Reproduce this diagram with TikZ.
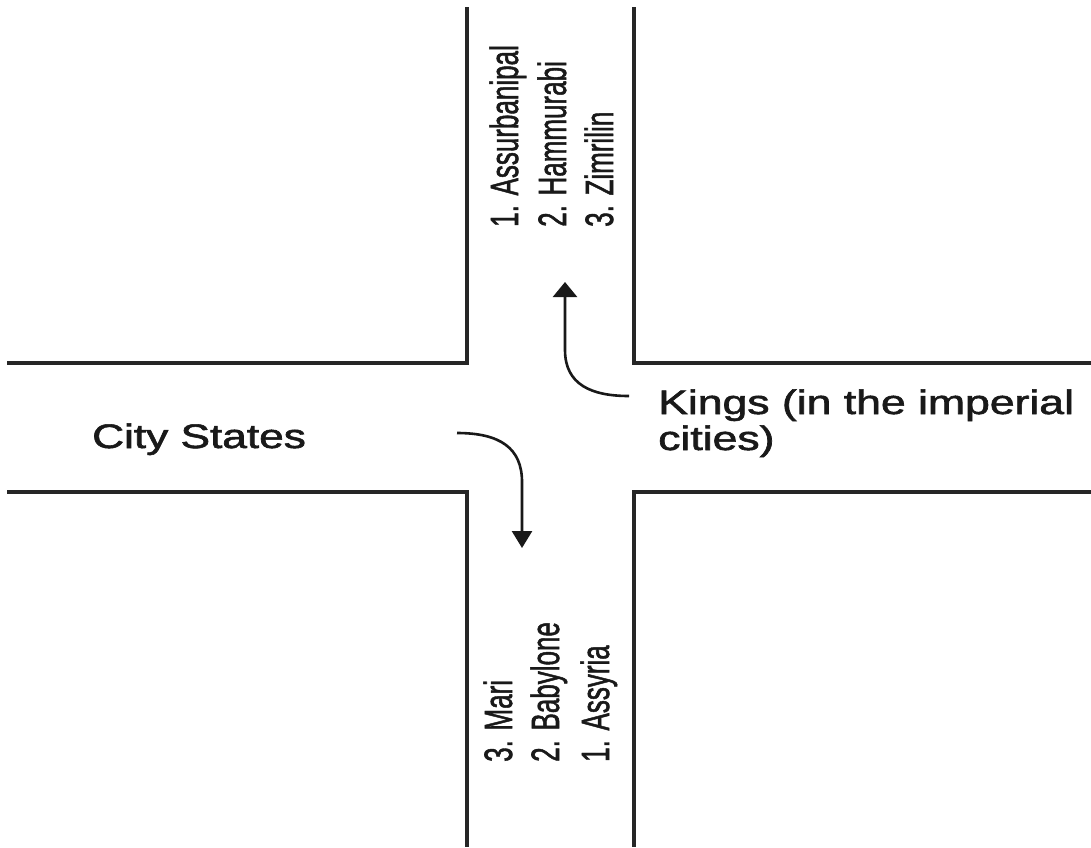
\documentclass[tikz,border=0pt]{standalone}
\usepackage{fontspec}
\setmainfont{Liberation Sans}
\newfontfamily\heavysans[FakeBold=1.6]{Liberation Sans}
\usetikzlibrary{arrows.meta}
\begin{document}
\begin{tikzpicture}[x=1pt,y=-1pt,
  wall/.style={line width=3.2pt, draw=black!85, line join=miter},
  flow/.style={line width=2.6pt, draw=black!90},
  uptip/.style={-{Triangle[width=24pt,length=15pt]}},
  downtip/.style={-{Triangle[width=20pt,length=17pt]}},
  roadtext/.style={inner sep=0pt, anchor=base west, text=black!90, font=\heavysans\fontsize{34}{36}\selectfont},
  streettext/.style={inner sep=0pt, anchor=base west, rotate=90, text=black!90, font=\heavysans\fontsize{26}{30}\selectfont}]
\fill[white] (0,0) rectangle (1091,847);
\useasboundingbox (0,0) rectangle (1091,847);

% the four blocks around the crossing
\draw[wall] (467,7) -- (467,363) -- (7,363);
\draw[wall] (634,7) -- (634,363) -- (1091,363);
\draw[wall] (7,492) -- (467,492) -- (467,847);
\draw[wall] (1091,492) -- (634,492) -- (634,847);

% horizontal street labels
\node[roadtext] (city) at (92,448) {\scalebox{1.3}[1]{City States}};
\node[roadtext] (kings1) at (658,414) {\scalebox{1.31}[1]{Kings (in the imperial}};
\node[roadtext] (kings2) at (658,450) {\scalebox{1.31}[1]{cities)}};

% upper street: kings
\node[streettext] (k1) at (518,227) {\scalebox{1}[1.52]{1. Assurbanipal}};
\node[streettext] (k2) at (566,227) {\scalebox{1}[1.52]{2. Hammurabi}};
\node[streettext] (k3) at (613,227) {\scalebox{1}[1.52]{3. Zimrilin}};

% lower street: city states
\node[streettext] (c3) at (512,762) {\scalebox{1}[1.52]{3. Mari}};
\node[streettext] (c2) at (559,762) {\scalebox{1}[1.52]{2. Babylone}};
\node[streettext] (c1) at (609,762) {\scalebox{1}[1.52]{1. Assyria}};

% turning arrows
\coordinate (kingsTail) at (629,396);
\coordinate (kingsTip) at (565,282);
\draw[flow, uptip] (kingsTail) .. controls (592,396) and (565,385) .. (565,350) -- (kingsTip);

\coordinate (cityTail) at (457,433);
\coordinate (cityTip) at (522,548);
\draw[flow, downtip] (cityTail) .. controls (500,433) and (522,448) .. (522,482) -- (cityTip);
\end{tikzpicture}
\end{document}
